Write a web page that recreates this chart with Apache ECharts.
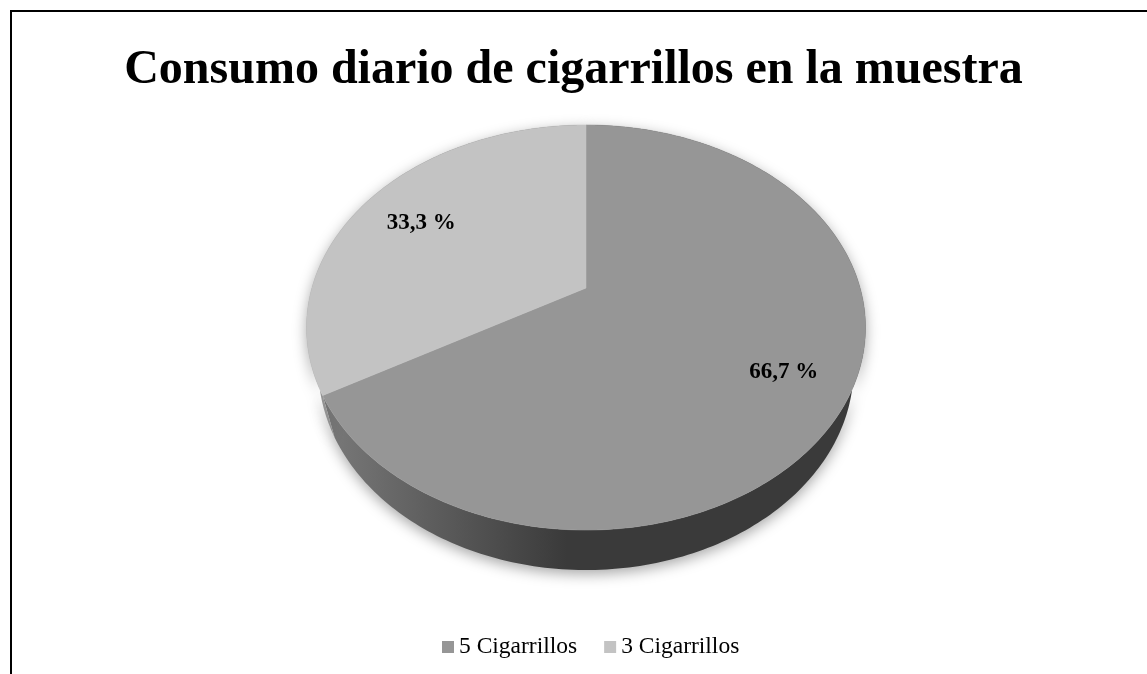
<!DOCTYPE html>
<html>
<head>
<meta charset="utf-8">
<script src="https://cdn.jsdelivr.net/npm/echarts@6/dist/echarts.min.js"></script>
<style>
html,body{margin:0;padding:0;background:#fff;}
#chart{width:1147px;height:674px;}
</style>
</head>
<body>
<div id="chart"></div>
<script>
// ---- data ----
const categories = ['5 Cigarrillos', '3 Cigarrillos'];
const values = [66.7, 33.3];
const sliceColors = ['#969696', '#c3c3c3'];
const sideColors = [['#7a7a7a', '#3a3a3a'], ['#9a9a9a', '#6a6a6a']];
const titleText = 'Consumo diario de cigarrillos en la muestra';

// ---- 3D projection of a tilted disc (radius 1) ----
const CX = 586, CY = 288, FX = 1002, FY = 1016, DIST = 3.655, TILT = 44.5 * Math.PI / 180, H = 0.223;
const S = Math.sin(TILT), C = Math.cos(TILT);
function proj(x, y, z) {
  const d = DIST - (y * S + z * C);
  const u = y * C - z * S;
  return [CX + FX * x / d, CY - FY * u / d];
}
function ptAt(theta, r, y) { // theta clockwise from 12 o'clock
  return proj(r * Math.sin(theta), y, -r * Math.cos(theta));
}
const total = values.reduce((a, b) => a + b, 0);
function sliceAngles(i) {
  let acc = 0;
  for (let k = 0; k < i; k++) acc += values[k];
  const a0 = acc / total * Math.PI * 2;
  const a1 = (acc + values[i]) / total * Math.PI * 2;
  return [a0, a1];
}
function fmt(v) { return v.toFixed(1).replace('.', ',') + ' %'; }

function makeRender(i) {
  return function (params, api) {
    const [a0, a1] = sliceAngles(i);
    const n = Math.max(4, Math.ceil((a1 - a0) / (Math.PI / 180)));
    const topArc = [], botArc = [];
    for (let k = 0; k <= n; k++) {
      const t = a0 + (a1 - a0) * k / n;
      topArc.push(ptAt(t, 1, 0));
      botArc.push(ptAt(t, 1, -H));
    }
    const topPts = [proj(0, 0, 0)].concat(topArc);
    const sidePts = topArc.concat(botArc.slice().reverse());
    const mid = (a0 + a1) / 2;
    const lp = ptAt(mid, 0.76, 0);
    return {
      type: 'group',
      children: [
        {
          type: 'polygon', z2: 1,
          shape: { points: sidePts },
          style: {
            fill: new echarts.graphic.LinearGradient(0, 0, 1, 0, [
              { offset: 0, color: sideColors[i][0] },
              { offset: 0.45, color: sideColors[i][1] },
              { offset: 1, color: sideColors[i][1] }
            ]),
            shadowBlur: 14, shadowColor: 'rgba(0,0,0,0.35)', shadowOffsetY: 4
          }
        },
        {
          type: 'polygon', z2: 10,
          shape: { points: topPts },
          style: { fill: sliceColors[i], stroke: sliceColors[i], lineWidth: 0.5 }
        },
        {
          type: 'text', z2: 20,
          x: lp[0] + 3, y: lp[1] + 4,
          style: {
            text: fmt(values[i]),
            font: 'bold 23px "Liberation Serif", "Times New Roman", serif',
            fill: '#000', align: 'center', verticalAlign: 'middle'
          }
        }
      ]
    };
  };
}

const chart = echarts.init(document.getElementById('chart'), null, { renderer: 'canvas' });
chart.setOption({
  backgroundColor: '#fff',
  animation: false,
  color: sliceColors,
  title: {
    text: titleText,
    left: 'center',
    top: 42,
    textStyle: {
      fontFamily: '"Liberation Serif", "Times New Roman", serif',
      fontWeight: 'bold',
      fontSize: 48,
      color: '#000'
    }
  },
  legend: {
    data: categories,
    left: 437,
    top: 630,
    icon: 'rect',
    itemWidth: 12,
    itemHeight: 12,
    itemGap: 27,
    textStyle: {
      fontFamily: '"Liberation Serif", "Times New Roman", serif',
      fontSize: 23.5,
      color: '#000'
    }
  },
  graphic: [{
    type: 'rect', silent: true, z: -1,
    shape: { x: 11, y: 11, width: 1200, height: 700 },
    style: { fill: 'none', stroke: '#000', lineWidth: 2 }
  }],
  series: categories.map((name, i) => ({
    type: 'custom',
    name: name,
    coordinateSystem: 'none',
    itemStyle: { color: sliceColors[i] },
    data: [values[i]],
    renderItem: makeRender(i)
  }))
});
</script>
</body>
</html>
